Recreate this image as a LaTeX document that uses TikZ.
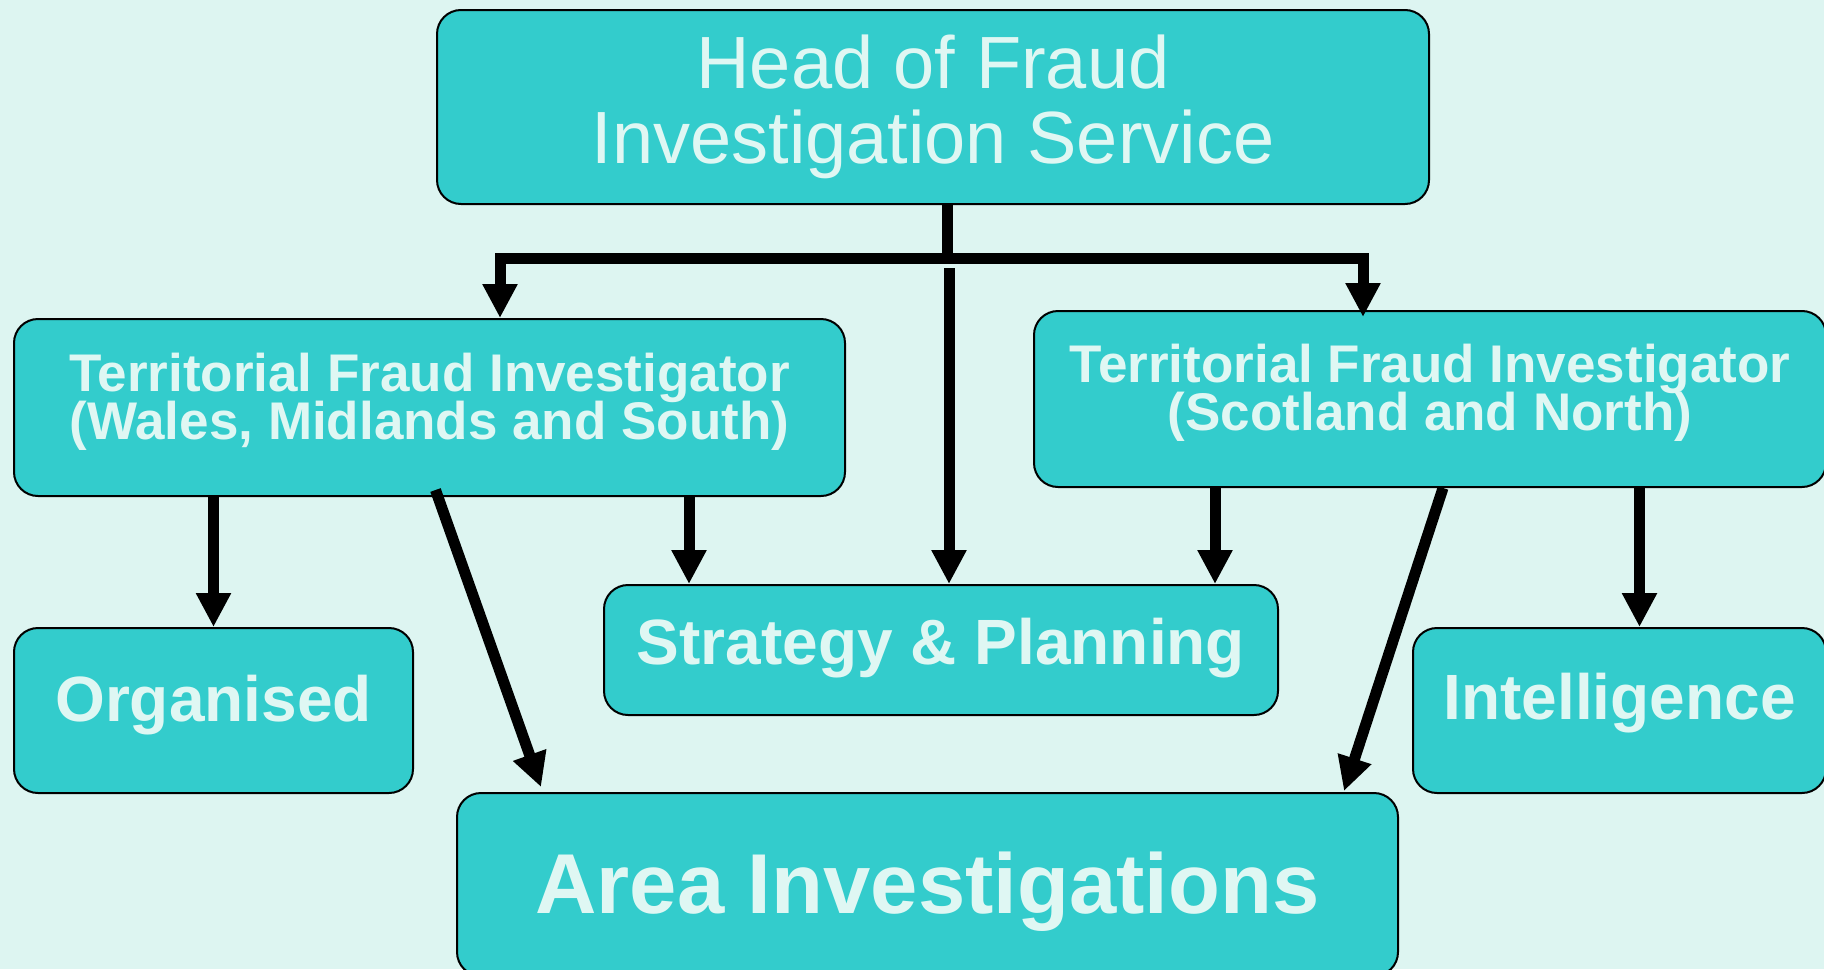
\documentclass[tikz,border=0pt]{standalone}
\usepackage{fontspec}
\setmainfont{Liberation Sans}
\usetikzlibrary{arrows.meta}
\definecolor{paper}{HTML}{DDF5F1}
\definecolor{tealbox}{HTML}{33CCCC}
\definecolor{boxtext}{HTML}{DFF7F3}
\newcommand\tightlines{\lineskiplimit=-20pt\relax}
\newcommand\lowstrut{\rule[-11.5pt]{0pt}{11.5pt}}

\begin{document}
\begin{tikzpicture}[x=0.5pt,y=-0.5pt,
  box/.style={draw=black,line width=1pt,fill=tealbox,rounded corners=12pt,text=boxtext,align=center,inner sep=0pt},
  link/.style={line width=5.5pt},
  arrow/.style={link,-{Triangle[width=16.5pt,length=17pt]}}]
\fill[paper] (0,0) rectangle (1824,969);
\useasboundingbox (0,0) rectangle (1824,969);
\node[box,font={\fontsize{37}{37.5}\selectfont},minimum width=496pt,minimum height=97pt] (head) at (933,107) {Head of Fraud\\Investigation Service};
\node[box,font={\bfseries\fontsize{26.5}{24}\selectfont\tightlines},minimum width=415.5pt,minimum height=88.5pt] (tfl) at (429.5,407.5) {Territorial Fraud Investigator\\(Wales, Midlands and South)\lowstrut};
\node[box,font={\bfseries\fontsize{26.5}{24}\selectfont\tightlines},minimum width=396pt,minimum height=88pt] (tfr) at (1430,399) {Territorial Fraud Investigator\\(Scotland and North)\lowstrut};
\node[box,font={\bfseries\fontsize{32}{38}\selectfont},text height=23pt,text depth=12pt,minimum width=199.5pt,minimum height=82.5pt] (org) at (213.5,710.5) {Organised};
\node[box,font={\bfseries\fontsize{32}{38}\selectfont},text height=23pt,text depth=9pt,minimum width=337pt,minimum height=65pt] (strat) at (941,650) {Strategy \& Planning};
\node[box,font={\bfseries\fontsize{32}{38}\selectfont},text height=23pt,text depth=14pt,minimum width=206.5pt,minimum height=82.5pt] (intel) at (1619.5,710.5) {Intelligence};
\node[box,font={\bfseries\fontsize{42.5}{50}\selectfont},text height=30.5pt,text depth=2pt,minimum width=470.5pt,minimum height=91.5pt] (area) at (927.5,884.5) {Area Investigations};

\coordinate (stem) at (947,258);
\coordinate (busL) at (500,258);
\coordinate (busR) at (1363,258);
\path (busR |- tfr.north) ++(0,7) coordinate (tipR);
\coordinate (midtop) at (949,268);
\coordinate (sL) at ([xshift=43pt]strat.north west);
\coordinate (sR) at ([xshift=-32pt]strat.north east);
\coordinate (iN) at ([xshift=10pt]intel.north);

\draw[link] ([xshift=7pt]head.south) -- (stem);
\draw[arrow] (stem) -- (busL) -- (busL |- tfl.north);
\draw[arrow] (stem) -- (busR) -- (tipR);
\draw[arrow] (midtop) -- (midtop |- strat.north);

\draw[arrow] (tfl.south -| org.north) -- (org.north);
\draw[arrow] ([xshift=3pt,yshift=3.5pt]tfl.south) -- ([xshift=42.5pt,yshift=2.5pt]area.north west);
\draw[arrow] (sL |- tfl.south) -- (sL);

\draw[arrow] (sR |- tfr.south) -- (sR);
\draw[arrow] ([xshift=6.5pt]tfr.south) -- ([xshift=-27.5pt,yshift=0.5pt]area.north east);
\draw[arrow] (iN |- tfr.south) -- (iN);
\end{tikzpicture}
\end{document}
